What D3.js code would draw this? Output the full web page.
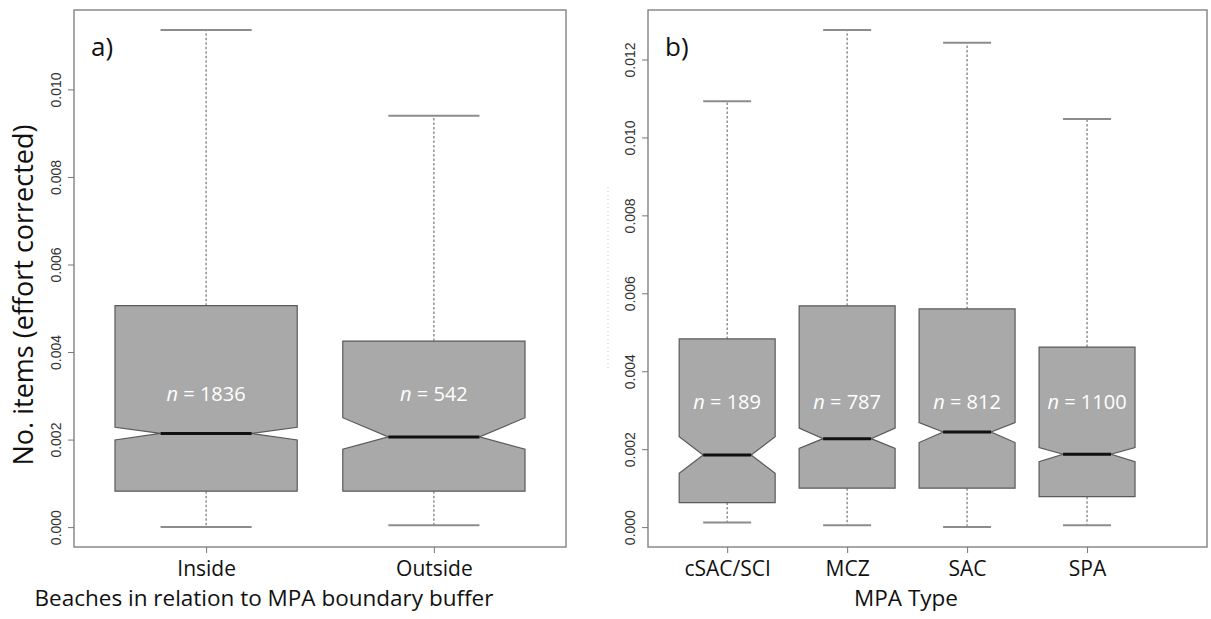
<!DOCTYPE html>
<html>
<head>
<meta charset="utf-8">
<script src="https://cdn.jsdelivr.net/npm/d3@7/dist/d3.min.js"></script>
<style>
  body { margin: 0; background: #fff; }
  svg { display: block; }
  .tick-label { font-family: 'Liberation Sans', Arial, sans-serif; font-size: 14px; fill: #333; }
  .cat-label { font-family: 'Open Sans', sans-serif; font-size: 21px; fill: #111; }
  .axis-title { font-family: 'Open Sans', sans-serif; font-size: 22.5px; fill: #111; }
  .y-title { font-family: 'Open Sans', sans-serif; font-size: 27px; fill: #111; }
  .n-label { font-family: 'Open Sans', sans-serif; font-size: 20px; fill: #fff; }
  .panel-label { font-family: 'Open Sans', sans-serif; font-size: 26px; fill: #111; }
</style>
</head>
<body>
<svg id="chart" width="1211" height="619"></svg>
<script>
// panel a) beaches vs MPA boundary buffer
const bufferCats = ['Inside', 'Outside'];
const bufferN = [1836, 542];
const bufferLow = [0.0, 0.00004];
const bufferQ1 = [0.00082, 0.00082];
const bufferNotchLo = [0.00199, 0.00178];
const bufferMedian = [0.00214, 0.00206];
const bufferNotchHi = [0.00228, 0.00250];
const bufferQ3 = [0.00506, 0.00425];
const bufferHigh = [0.01136, 0.0094];

// panel b) MPA type
const typeCats = ['cSAC/SCI', 'MCZ', 'SAC', 'SPA'];
const typeN = [189, 787, 812, 1100];
const typeLow = [0.00012, 0.00005, 0.0, 0.00005];
const typeQ1 = [0.00063, 0.00100, 0.00100, 0.00078];
const typeNotchLo = [0.00138, 0.00202, 0.00217, 0.00168];
const typeMedian = [0.00185, 0.00227, 0.00244, 0.00187];
const typeNotchHi = [0.00232, 0.00254, 0.00268, 0.00204];
const typeQ3 = [0.00483, 0.00568, 0.00560, 0.00462];
const typeHigh = [0.01093, 0.01276, 0.01243, 0.01047];

const svg = d3.select('#chart');

const plotTop = 10;
const plotBottom = 547;
const fmt = d3.format('.3f');

function drawPanel(opt) {
  const g = svg.append('g');
  const rows = opt.cats.map((c, i) => ({
    cat: c, pos: i + 1, n: opt.n[i], low: opt.low[i], q1: opt.q1[i], nlo: opt.notchLo[i],
    med: opt.median[i], nhi: opt.notchHi[i], q3: opt.q3[i], high: opt.high[i],
  }));

  // R style: data range padded by 4% at each end
  const lo = d3.min(opt.low);
  const hi = d3.max(opt.high);
  const pad = (hi - lo) * 0.04;
  const y = d3.scaleLinear().domain([lo - pad, hi + pad]).range([plotBottom, plotTop]);
  const x = d3.scaleLinear().domain(opt.xDomain).range([opt.left, opt.right]);
  const hw = (x(1.4) - x(1)); // half box width (boxwex 0.8)

  // frame
  g.append('rect')
    .attr('x', opt.left).attr('y', plotTop)
    .attr('width', opt.right - opt.left).attr('height', plotBottom - plotTop)
    .attr('fill', 'none').attr('stroke', '#8a8a8a').attr('stroke-width', 1.5);

  // y axis
  const yAxis = g.append('g')
    .attr('transform', `translate(${opt.left},0)`)
    .call(d3.axisLeft(y).ticks(opt.yTicks).tickFormat(fmt).tickSize(6));
  yAxis.select('.domain').remove();
  yAxis.selectAll('.tick line').attr('stroke', '#777');
  yAxis.selectAll('.tick text')
    .attr('class', 'tick-label')
    .attr('transform', 'rotate(-90)')
    .attr('x', 0).attr('y', -18).attr('dy', '0.35em')
    .attr('text-anchor', 'middle')
    .attr('fill', null);

  // x axis
  const xAxis = g.append('g')
    .attr('transform', `translate(0,${plotBottom})`)
    .call(d3.axisBottom(x).tickValues(rows.map((d) => d.pos)).tickSize(6)
      .tickFormat((d) => opt.cats[d - 1]));
  xAxis.select('.domain').remove();
  xAxis.selectAll('.tick line').attr('stroke', '#777');
  xAxis.selectAll('.tick text')
    .attr('class', 'cat-label')
    .attr('y', 29).attr('dy', 0)
    .attr('fill', null);

  const box = g.selectAll('.box').data(rows).enter().append('g').attr('class', 'box');

  // whiskers
  box.append('line')
    .attr('x1', (d) => x(d.pos)).attr('x2', (d) => x(d.pos))
    .attr('y1', (d) => y(d.q3)).attr('y2', (d) => y(d.high))
    .attr('stroke', '#777').attr('stroke-width', 1.2).attr('stroke-dasharray', '2.5,2');
  box.append('line')
    .attr('x1', (d) => x(d.pos)).attr('x2', (d) => x(d.pos))
    .attr('y1', (d) => y(d.q1)).attr('y2', (d) => y(d.low))
    .attr('stroke', '#777').attr('stroke-width', 1.2).attr('stroke-dasharray', '2.5,2');
  // staples
  ['high', 'low'].forEach((k) => {
    box.append('line')
      .attr('x1', (d) => x(d.pos) - hw / 2).attr('x2', (d) => x(d.pos) + hw / 2)
      .attr('y1', (d) => y(d[k])).attr('y2', (d) => y(d[k]))
      .attr('stroke', '#8c8c8c').attr('stroke-width', 2);
  });

  // notched box, same outline as R's bxp
  box.append('path')
    .attr('d', (d) => {
      const c = x(d.pos);
      const pts = [
        [c - hw, y(d.q1)], [c + hw, y(d.q1)], [c + hw, y(d.nlo)], [c + hw / 2, y(d.med)],
        [c + hw, y(d.nhi)], [c + hw, y(d.q3)], [c - hw, y(d.q3)], [c - hw, y(d.nhi)],
        [c - hw / 2, y(d.med)], [c - hw, y(d.nlo)],
      ];
      return d3.line()(pts) + 'Z';
    })
    .attr('fill', '#a9a9a9').attr('stroke', '#5a5a5a').attr('stroke-width', 1.2);

  // median
  box.append('line')
    .attr('x1', (d) => x(d.pos) - hw / 2).attr('x2', (d) => x(d.pos) + hw / 2)
    .attr('y1', (d) => y(d.med)).attr('y2', (d) => y(d.med))
    .attr('stroke', '#111').attr('stroke-width', 3);

  // n labels
  const nt = box.append('text')
    .attr('class', 'n-label')
    .attr('x', (d) => x(d.pos)).attr('y', opt.nY)
    .attr('dy', '0.35em')
    .attr('text-anchor', 'middle');
  nt.append('tspan').attr('font-style', 'italic').text('n');
  nt.append('tspan').text((d) => ` = ${d.n}`);

  // panel letter
  g.append('text')
    .attr('class', 'panel-label')
    .attr('x', opt.left + 17).attr('y', 56)
    .text(opt.letter);

  // x title
  g.append('text')
    .attr('class', 'axis-title')
    .attr('x', opt.titleX).attr('y', 606)
    .attr('text-anchor', 'middle')
    .text(opt.xTitle);

  return { g, x, y };
}

drawPanel({
  cats: bufferCats, n: bufferN, low: bufferLow, q1: bufferQ1, notchLo: bufferNotchLo,
  median: bufferMedian, notchHi: bufferNotchHi, q3: bufferQ3, high: bufferHigh,
  left: 74, right: 566, xDomain: [0.42, 2.58], yTicks: 6, nY: 394,
  letter: 'a)', xTitle: 'Beaches in relation to MPA boundary buffer', titleX: 264,
});

const b = drawPanel({
  cats: typeCats, n: typeN, low: typeLow, q1: typeQ1, notchLo: typeNotchLo,
  median: typeMedian, notchHi: typeNotchHi, q3: typeQ3, high: typeHigh,
  left: 648, right: 1207, xDomain: [0.34, 5.0], yTicks: 7, nY: 402,
  letter: 'b)', xTitle: 'MPA Type', titleX: 906,
});

// faint leftover dotted trace beside panel b)
b.g.append('line')
  .attr('x1', 608).attr('x2', 608).attr('y1', 187).attr('y2', 370)
  .attr('stroke', '#c8c8c8').attr('stroke-width', 1).attr('stroke-dasharray', '1,3');

// y title (shared, left side)
svg.append('text')
  .attr('class', 'y-title')
  .attr('transform', 'translate(24,295) rotate(-90)')
  .attr('dy', '0.35em')
  .attr('text-anchor', 'middle')
  .text('No. items (effort corrected)');
</script>
</body>
</html>
